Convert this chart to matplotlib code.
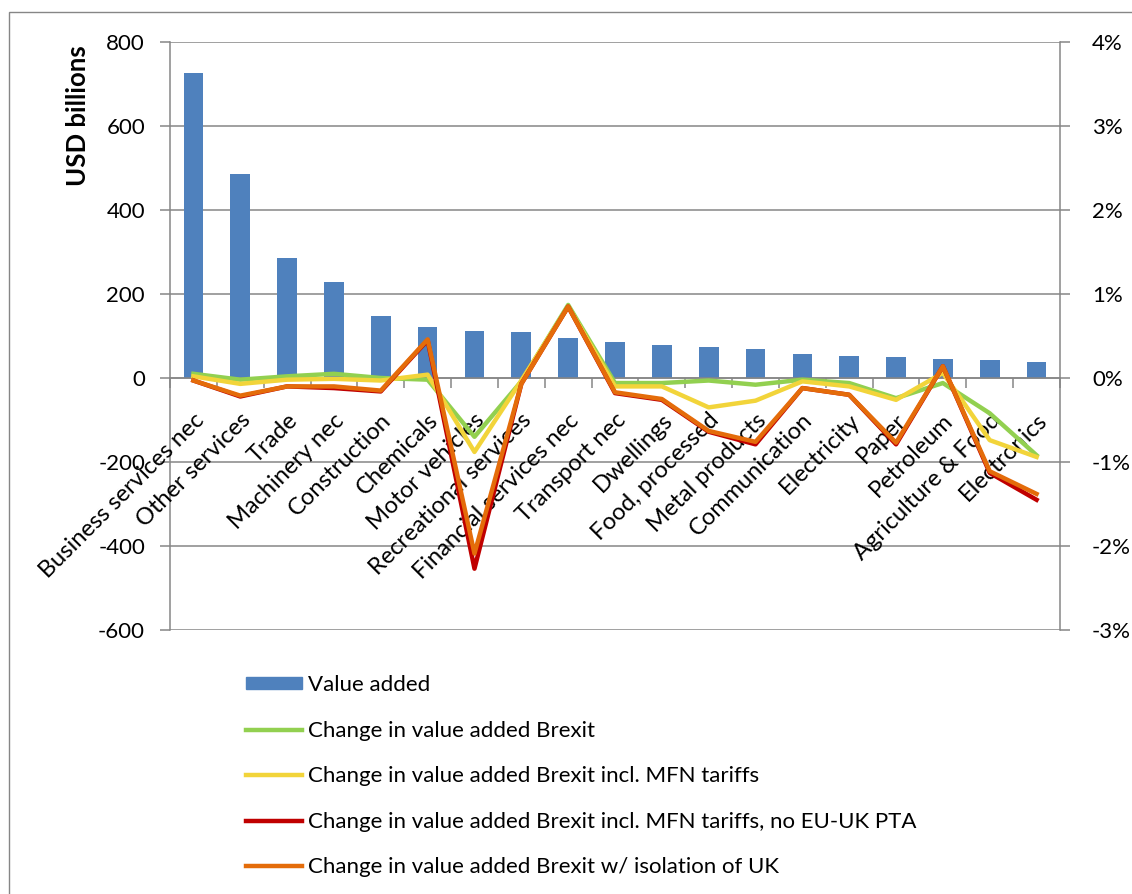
import matplotlib.pyplot as plt
from matplotlib.patches import Rectangle
from matplotlib.lines import Line2D
from matplotlib.transforms import ScaledTranslation

plt.rcParams['font.family'] = ['Lato', 'DejaVu Sans']
plt.rcParams['axes.unicode_minus'] = False

sectors = ['Business services nec', 'Other services', 'Trade', 'Machinery nec',
           'Construction', 'Chemicals', 'Motor vehicles', 'Recreational services',
           'Financial services nec', 'Transport nec', 'Dwellings', 'Food, processed',
           'Metal products', 'Communication', 'Electricity', 'Paper', 'Petroleum',
           'Agriculture & Food', 'Electronics']
value_added = [726, 486, 286, 229, 148, 121, 112, 110, 95, 86, 78, 75, 70, 57,
               52, 50, 45, 43, 38]

# change in value added, percent
chg_brexit = [0.05, -0.02, 0.02, 0.05, 0.0, -0.02, -0.70, -0.04, 0.87, -0.06,
              -0.06, -0.03, -0.08, -0.02, -0.06, -0.24, -0.06, -0.42, -0.92]
chg_mfn = [0.02, -0.07, -0.02, -0.01, -0.03, 0.04, -0.88, -0.03, 0.85, -0.10,
           -0.10, -0.35, -0.27, -0.04, -0.10, -0.26, 0.06, -0.74, -0.94]
chg_no_pta = [-0.03, -0.22, -0.10, -0.12, -0.16, 0.45, -2.27, -0.07, 0.85, -0.18,
              -0.26, -0.64, -0.79, -0.12, -0.20, -0.79, 0.14, -1.13, -1.45]
chg_isolation = [-0.03, -0.21, -0.10, -0.10, -0.15, 0.46, -2.09, -0.07, 0.85, -0.17,
                 -0.25, -0.63, -0.76, -0.12, -0.20, -0.77, 0.14, -1.11, -1.38]

grey = '#868686'
fs = 16

fig = plt.figure(figsize=(11.32, 8.94), dpi=100)
fig.patches.append(Rectangle((9 / 1132, -0.1), 1.2, 1 - 12 / 894 + 0.1,
                             transform=fig.transFigure, fill=False,
                             edgecolor=grey, linewidth=1))
ax = fig.add_axes([170 / 1132, 1 - 630 / 894, 890 / 1132, 588 / 894])
ax2 = ax.twinx()

x = list(range(len(sectors)))
ax.bar(x, value_added, width=0.42, color='#4F81BD', zorder=2)
ax.set_xlim(-0.5, len(sectors) - 0.5)
ax.set_ylim(-600, 800)
ax.set_yticks(range(-600, 801, 200))
ax.yaxis.grid(True, color=grey, linewidth=1.1, zorder=0)
ax.set_axisbelow(True)
ax.tick_params(axis='y', length=7, width=1.1, color=grey, pad=11, labelsize=fs)

ax.spines['top'].set_visible(False)
ax.spines['bottom'].set_position(('data', 0))
ax.spines['bottom'].set_color(grey)
ax.spines['left'].set_color(grey)
ax.spines['right'].set_color(grey)
for s in ['left', 'right', 'bottom']:
    ax.spines[s].set_linewidth(1.1)
ax.set_xticks([i - 0.5 for i in range(len(sectors) + 1)])
ax.set_xticklabels([])
ax.tick_params(axis='x', length=7, width=1.1, color=grey, direction='out')

off = ScaledTranslation(7 / 100, -39 / 100, fig.dpi_scale_trans)
for i, name in enumerate(sectors):
    ax.text(i, 0, name, transform=ax.transData + off, rotation=45,
            ha='right', va='center', rotation_mode='anchor', fontsize=17,
            zorder=5)

fig.text(78 / 1132, 1 - 116 / 894, 'USD billions', rotation=90, ha='center',
         va='center', fontsize=18.5, fontweight='bold')

lw = 3.2
ax2.plot(x, chg_brexit, color='#92D050', linewidth=lw, zorder=2)
ax2.plot(x, chg_mfn, color='#F2D43A', linewidth=lw, zorder=3)
ax2.plot(x, chg_no_pta, color='#C00000', linewidth=lw, zorder=4)
ax2.plot(x, chg_isolation, color='#E46C0A', linewidth=lw, zorder=5)
ax2.set_ylim(-3, 4)
ax2.set_yticks(range(-3, 5))
ax2.set_yticklabels([f'{v}%' for v in range(-3, 5)])
ax2.tick_params(axis='y', length=7, width=1.1, color=grey, pad=16, labelsize=fs)
for s in ax2.spines.values():
    s.set_visible(False)

handles = [Rectangle((0, 0), 1, 1, color='#4F81BD'),
           Line2D([], [], color='#92D050', linewidth=lw),
           Line2D([], [], color='#F2D43A', linewidth=lw),
           Line2D([], [], color='#C00000', linewidth=lw),
           Line2D([], [], color='#E46C0A', linewidth=lw)]
labels = ['Value added', 'Change in value added Brexit',
          'Change in value added Brexit incl. MFN tariffs',
          'Change in value added Brexit incl. MFN tariffs, no EU-UK PTA',
          'Change in value added Brexit w/ isolation of UK']
fig.legend(handles, labels, loc='upper left',
           bbox_to_anchor=(246 / 1132, 1 - 675 / 894), frameon=False,
           fontsize=fs, handlelength=2.5, handleheight=0.45, handletextpad=0.3,
           labelspacing=1.15, borderpad=0, borderaxespad=0)

fig.savefig('out.png', dpi=100)
